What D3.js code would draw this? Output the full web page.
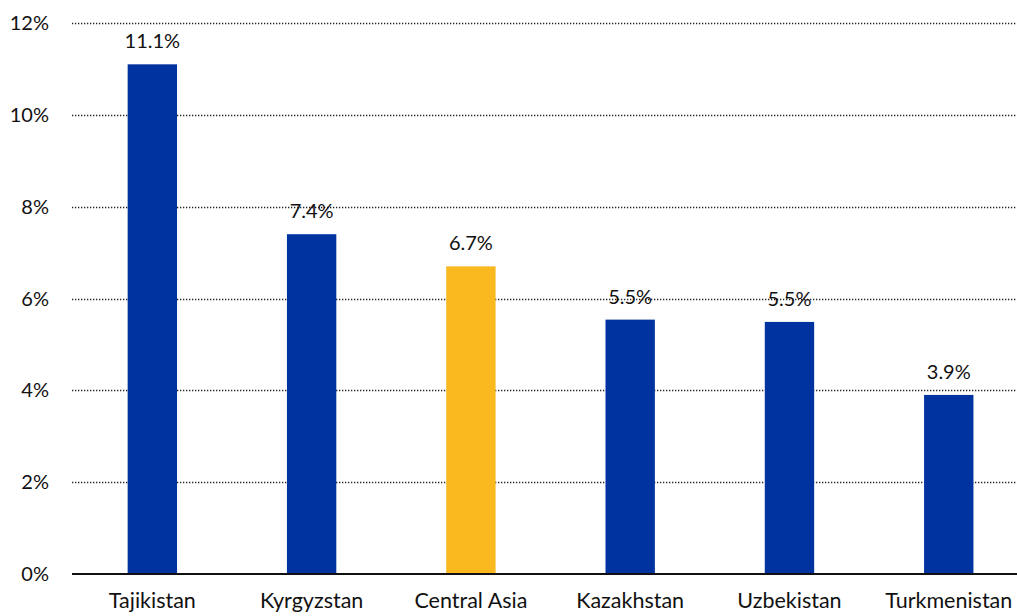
<!DOCTYPE html>
<html><head><meta charset="utf-8">
<script src="https://cdn.jsdelivr.net/npm/d3@7"></script>
<style>body{margin:0;background:#fff}svg{display:block}text{font-family:Lato,"Open Sans",sans-serif;fill:#111}</style>
</head><body><svg id="c" width="1017" height="616"></svg>
<script>
const categories = ["Tajikistan","Kyrgyzstan","Central Asia","Kazakhstan","Uzbekistan","Turkmenistan"];
const values = [11.1, 7.4, 6.7, 5.54, 5.49, 3.9];
const labels = ["11.1%","7.4%","6.7%","5.5%","5.5%","3.9%"];
const highlight = ["Central Asia"];
const yTicks = [0,2,4,6,8,10,12];

const svg = d3.select("#c");
const x = d3.scaleBand().domain(categories).range([72.7,1028.4]).paddingInner(0.69).paddingOuter(0.345);
const y = d3.scaleLinear().domain([0,12]).range([574,23]);

const grid = svg.append("g");
grid.selectAll("line").data(yTicks.filter(d=>d>0)).join("line")
  .attr("x1",72).attr("x2",1017).attr("y1",d=>Math.round(y(d))+0.5).attr("y2",d=>Math.round(y(d))+0.5)
  .attr("stroke","#222").attr("stroke-width",1.3).attr("stroke-dasharray","1.3,1.7");

svg.append("g").selectAll("text").data(yTicks).join("text")
  .attr("x",49).attr("y",d=>y(d)).attr("dy","0.35em").attr("text-anchor","end")
  .style("font-size","20px").text(d=>d+"%");

svg.append("g").selectAll("rect").data(categories).join("rect")
  .attr("x",d=>x(d)).attr("width",x.bandwidth())
  .attr("y",(d,i)=>y(values[i])).attr("height",(d,i)=>y(0)-y(values[i]))
  .attr("fill",d=>highlight.includes(d)?"#f9b81e":"#0033a0");

svg.append("line").attr("x1",72).attr("x2",1017).attr("y1",574).attr("y2",574)
  .attr("stroke","#111").attr("stroke-width",2);

svg.append("g").selectAll("text").data(categories).join("text")
  .attr("x",d=>x(d)+x.bandwidth()/2).attr("y",(d,i)=>y(values[i])-16)
  .attr("text-anchor","middle").style("font-size","20px").text((d,i)=>labels[i]);

svg.append("g").selectAll("text").data(categories).join("text")
  .attr("x",d=>x(d)+x.bandwidth()/2).attr("y",608)
  .attr("text-anchor","middle").style("font-size","21.5px").text(d=>d);
</script></body></html>
